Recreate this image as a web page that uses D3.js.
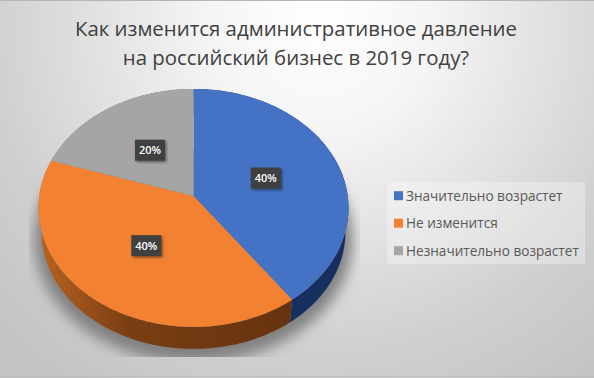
<!DOCTYPE html>
<html>
<head>
<meta charset="utf-8">
<script src="https://cdn.jsdelivr.net/npm/d3@7"></script>
<style>
html, body { margin: 0; padding: 0; background: #fff; }
svg { display: block; }
text { font-family: "Open Sans", sans-serif; }
</style>
</head>
<body>
<div id="chart"></div>
<script>
var titleLines = ["Как изменится административное давление", "на российский бизнес в 2019 году?"];
var categories = ["Значительно возрастет", "Не изменится", "Незначительно возрастет"];
var values = [40, 40, 20];
var colors = ["#4472c4", "#f28232", "#a5a5a5"];
var sideColors = ["#172f5e", "#843c0c", "#7b7b7b"];

var width = 594, height = 378;
var drop = 24.6, bottomScale = 0.98, tilt = 0.1;

var svg = d3.select("#chart").append("svg")
    .attr("width", width)
    .attr("height", height);

var defs = svg.append("defs");

var bgGrad = defs.append("radialGradient")
    .attr("id", "bg")
    .attr("gradientUnits", "userSpaceOnUse")
    .attr("cx", 320).attr("cy", 20).attr("r", 440);
bgGrad.append("stop").attr("offset", "0%").attr("stop-color", "#ffffff");
bgGrad.append("stop").attr("offset", "25%").attr("stop-color", "#f5f5f5");
bgGrad.append("stop").attr("offset", "75%").attr("stop-color", "#d0d0d0");
bgGrad.append("stop").attr("offset", "100%").attr("stop-color", "#c4c4c4");

var orangeSide = defs.append("linearGradient")
    .attr("id", "side1")
    .attr("gradientUnits", "userSpaceOnUse")
    .attr("x1", 40).attr("x2", 295).attr("y1", 0).attr("y2", 0);
orangeSide.append("stop").attr("offset", "0%").attr("stop-color", "#b8621f");
orangeSide.append("stop").attr("offset", "35%").attr("stop-color", "#7a3e13");
orangeSide.append("stop").attr("offset", "100%").attr("stop-color", "#64330f");

defs.append("filter").attr("id", "soft")
    .attr("x", "-20%").attr("y", "-20%").attr("width", "140%").attr("height", "140%")
    .append("feGaussianBlur").attr("stdDeviation", 7);

var boxShadow = defs.append("filter").attr("id", "boxShadow")
    .attr("x", "-30%").attr("y", "-30%").attr("width", "170%").attr("height", "170%");
boxShadow.append("feDropShadow")
    .attr("dx", 1.5).attr("dy", 1.5).attr("stdDeviation", 1.2)
    .attr("flood-color", "#000").attr("flood-opacity", 0.45);

defs.append("clipPath").attr("id", "shadowClip")
    .append("rect").attr("x", 29).attr("y", 150).attr("width", 331).attr("height", 207);

svg.append("rect")
    .attr("width", width).attr("height", height)
    .attr("fill", "url(#bg)");

// thin frame lines, top and bottom only
svg.append("rect").attr("width", width).attr("height", 1).attr("fill", "#b5b5b5");
svg.append("rect").attr("y", height - 2).attr("width", width).attr("height", 1).attr("fill", "#bdbdbd");

// pie in disk coordinates, then a small perspective so the front looks bigger
var pie = d3.pie().sort(null).value(function (d) { return d; });
var arcs = pie(values);

var xScale = d3.scaleLinear().domain([-1, 1]).range([193.5 - 154.2, 193.5 + 154.2]);
var yScale = d3.scaleLinear().domain([-1, 1]).range([196 + 117.8, 196 - 117.8]);

function project(angle, r, down, k) {
    var u = r * Math.sin(angle), v = r * Math.cos(angle);
    var w = 1 + tilt * v;
    return [
        xScale(0) + k * (xScale(u) - xScale(0)) / w,
        yScale(0) + k * (yScale(v) - yScale(0)) / w + down
    ];
}

function sample(a0, a1, down, k) {
    return d3.range(0, 101).map(function (i) {
        return project(a0 + (a1 - a0) * i / 100, 1, down, k);
    });
}

var line = d3.line();

// shadow under the disk
svg.append("g").attr("clip-path", "url(#shadowClip)")
    .append("path")
    .attr("d", line(sample(0, 2 * Math.PI, drop + 7, 1)) + "Z")
    .attr("fill", "#808080")
    .attr("stroke", "#808080")
    .attr("stroke-width", 8)
    .attr("filter", "url(#soft)");

// side wall, the top of the disk covers whatever faces away
var sideFills = [sideColors[0], "url(#side1)", sideColors[2]];
svg.append("g").selectAll("path")
    .data(arcs)
    .join("path")
    .attr("d", function (d) {
        return line(sample(d.startAngle, d.endAngle, 0, 1)
            .concat(sample(d.endAngle, d.startAngle, drop, bottomScale))) + "Z";
    })
    .attr("fill", function (d, i) { return sideFills[i]; });

// top of the disk
svg.append("g").selectAll("path")
    .data(arcs)
    .join("path")
    .attr("d", function (d) {
        return line([project(0, 0, 0, 1)].concat(sample(d.startAngle, d.endAngle, 0, 1))) + "Z";
    })
    .attr("fill", function (d, i) { return colors[i]; });

// data labels
var label = svg.append("g").selectAll("g")
    .data(arcs)
    .join("g")
    .attr("transform", function (d) {
        var p = project((d.startAngle + d.endAngle) / 2, 0.5, 0, 1);
        return "translate(" + p[0] + "," + p[1] + ")";
    });

label.append("rect")
    .attr("x", -15).attr("y", -10.5)
    .attr("width", 30).attr("height", 21)
    .attr("fill", "#404040")
    .attr("filter", "url(#boxShadow)");

label.append("text")
    .attr("text-anchor", "middle")
    .attr("dy", "0.36em")
    .attr("fill", "#fff")
    .attr("font-size", 11)
    .attr("font-weight", 600)
    .text(function (d) { return d.value + "%"; });

// legend
svg.append("rect")
    .attr("x", 387).attr("y", 182)
    .attr("width", 198).attr("height", 82)
    .attr("fill", "#fff").attr("fill-opacity", 0.3);

var legendY = d3.scalePoint().domain(categories).range([195.7, 250.7]);

var legend = svg.append("g").selectAll("g")
    .data(categories)
    .join("g")
    .attr("transform", function (d) { return "translate(394," + legendY(d) + ")"; });

legend.append("rect")
    .attr("x", 0).attr("y", -4.5)
    .attr("width", 9).attr("height", 9)
    .attr("fill", function (d, i) { return colors[i]; });

legend.append("text")
    .attr("x", 12)
    .attr("dy", "0.36em")
    .attr("fill", "#595959")
    .attr("font-size", 13.6)
    .text(function (d) { return d; });

// title
svg.append("g").selectAll("text")
    .data(titleLines)
    .join("text")
    .attr("x", 296)
    .attr("y", function (d, i) { return 36 + i * 29; })
    .attr("text-anchor", "middle")
    .attr("fill", "#404040")
    .attr("font-size", 20.4)
    .text(function (d) { return d; });
</script>
</body>
</html>
